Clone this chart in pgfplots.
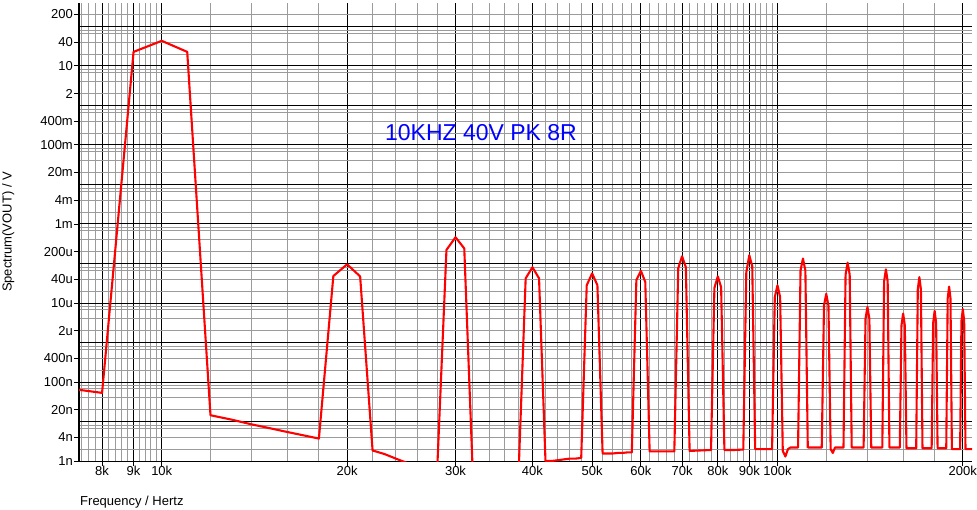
\documentclass[border=0pt]{standalone}
\usepackage{fontspec}
\setmainfont{Liberation Sans}
\usepackage{pgfplots}
\pgfplotsset{compat=1.18}
\definecolor{gridgray}{RGB}{155,155,155}
\definecolor{titleblue}{RGB}{0,0,255}

\pgfplotstableread{
f v
7000 7.0e-8
8000 5.3e-8
9000 22.6
10000 43
11000 22.6
12000 1.44e-8
13000 1.11e-8
14000 8.45e-9
15000 6.73e-9
16000 5.42e-9
17000 4.45e-9
18000 3.70e-9
19000 4.8e-5
20000 9.5e-5
21000 4.7e-5
22000 1.85e-9
23000 1.5e-9
24000 1.15e-9
25000 9.0e-10
26000 7.0e-10
27000 5.5e-10
28000 5.0e-10
29000 2.2e-4
30000 4.6e-4
31000 2.4e-4
32000 5.0e-10
33000 3.0e-10
34000 3.0e-10
35000 3.0e-10
36000 3.0e-10
37000 3.0e-10
38000 6.0e-10
39000 4.2e-5
40000 8.0e-5
41000 4.2e-5
42000 1.0e-9
43000 1.0e-9
44000 1.05e-9
45000 1.1e-9
46000 1.15e-9
47000 1.15e-9
48000 1.2e-9
49000 2.8e-5
50000 5.6e-5
51000 2.8e-5
52000 1.55e-9
53000 1.55e-9
54000 1.55e-9
55000 1.6e-9
56000 1.6e-9
57000 1.65e-9
58000 1.65e-9
59000 3.8e-5
60000 6.5e-5
61000 3.4e-5
62000 1.75e-9
65000 1.75e-9
68000 1.75e-9
69000 7.6e-5
70000 1.52e-4
71000 8.0e-5
72000 1.8e-9
75000 1.85e-9
78000 1.9e-9
79000 2.4e-5
80000 4.7e-5
81000 2.5e-5
82000 1.9e-9
85000 1.9e-9
88000 1.95e-9
89000 6.0e-5
90000 1.61e-4
91000 8.5e-5
92000 2.0e-9
95000 2.0e-9
98000 2.0e-9
99000 1.4e-5
100000 2.8e-5
101000 1.4e-5
102000 1.8e-9
103000 1.3e-9
104000 2.0e-9
105000 2.2e-9
108000 2.2e-9
109000 6.6e-5
110000 1.33e-4
111000 6.6e-5
112000 2.2e-9
118000 2.2e-9
119000 8.5e-6
120000 1.7e-5
121000 8.5e-6
122000 2.0e-9
123000 1.6e-9
124000 2.2e-9
128000 2.2e-9
129000 5.2e-5
130000 1.05e-4
131000 5.2e-5
132000 2.2e-9
138000 2.2e-9
139000 4.0e-6
140000 7.9e-6
141000 4.0e-6
142000 2.2e-9
148000 2.2e-9
149000 3.5e-5
150000 7.1e-5
151000 3.5e-5
152000 2.2e-9
158000 2.2e-9
159000 2.7e-6
160000 5.4e-6
161000 2.7e-6
162000 2.1e-9
168000 2.1e-9
169000 2.2e-5
170000 4.5e-5
171000 2.2e-5
172000 2.1e-9
178000 2.1e-9
179000 3.1e-6
180000 6.3e-6
181000 3.1e-6
182000 2.1e-9
188000 2.1e-9
189000 1.3e-5
190000 2.6e-5
191000 1.3e-5
192000 2.0e-9
198000 2.0e-9
199000 3.5e-6
200000 7.0e-6
201000 3.5e-6
202000 2.0e-9
210000 2.0e-9
}\spectrum

\begin{document}
\begin{tikzpicture}
\useasboundingbox (-79pt,-48pt) rectangle (898pt,461pt);
\begin{axis}[
  at={(0pt,0pt)}, anchor=south west,
  scale only axis, width=893pt, height=458pt,
  xmode=log, ymode=log,
  xmin=7340, xmax=207000, ymin=1e-9, ymax=390,
  axis x line=bottom, axis y line=left, axis line style={-},
  x axis line style={line width=1pt},
  y axis line style={line width=2.6pt},
  tick align=outside,
  major tick length=5pt, minor tick length=0pt,
  tick style={black, line width=0.8pt},
  tick label style={font=\fontsize{13}{15}\selectfont},
  xticklabel style={inner sep=0pt},
  yticklabel style={inner sep=1pt},
  xtick={8000,9000,10000,20000,30000,40000,50000,60000,70000,80000,90000,100000,200000},
  xticklabels={8k,9k,10k,20k,30k,40k,50k,60k,70k,80k,90k,100k,200k},
  minor xtick={7400,7600,7800,8200,8400,8600,8800,9200,9400,9600,9800,12000,14000,16000,18000,22000,24000,26000,28000,32000,34000,36000,38000,42000,44000,46000,48000,52000,54000,56000,58000,62000,64000,66000,68000,72000,74000,76000,78000,82000,84000,86000,88000,92000,94000,96000,98000,120000,140000,160000,180000},
  ytick={1e-9,4e-9,2e-8,1e-7,4e-7,2e-6,1e-5,4e-5,2e-4,1e-3,4e-3,2e-2,0.1,0.4,2,10,40,200},
  yticklabels={1n,4n,20n,100n,400n,2u,10u,40u,200u,1m,4m,20m,100m,400m,2,10,40,200},
  minor ytick={2e-9,4e-9,6.7e-9,8e-9,2e-8,4e-8,6.7e-8,8e-8,2e-7,4e-7,6.7e-7,8e-7,2e-6,4e-6,6.7e-6,8e-6,2e-5,4e-5,6.7e-5,8e-5,2e-4,4e-4,6.7e-4,8e-4,2e-3,4e-3,6.7e-3,8e-3,2e-2,4e-2,6.7e-2,8e-2,0.2,0.4,0.67,0.8,2,4,6.7,8,20,40,67,80,200},
  extra y ticks={1e-9,1e-8,1e-7,1e-6,1e-5,1e-4,1e-3,1e-2,0.1,1,10,100},
  extra y tick labels={},
  extra y tick style={grid=major, tick style={draw=none}},
  xmajorgrids=true, xminorgrids=true,
  ymajorgrids=false, yminorgrids=true,
  major grid style={black, line width=0.9pt},
  minor grid style={gridgray, line width=0.9pt},
  xlabel={Frequency / Hertz},
  xlabel style={at={(axis description cs:0,0)}, anchor=base west, yshift=-44pt, xshift=1pt, inner sep=0pt, font=\fontsize{13}{15}\selectfont},
  ylabel={Spectrum(VOUT) / V},
  ylabel style={at={(axis description cs:-0.0862,0.5)}, anchor=north, inner sep=0pt, font=\fontsize{13}{15}\selectfont},
]
\addplot[red, line width=2.1pt, line join=round] table[x=f, y=v] {\spectrum};
\node[font=\fontsize{23}{27}\selectfont, text=titleblue] at (axis cs:33000,0.2) {10KHZ 40V PK 8R};
\end{axis}
\end{tikzpicture}
\end{document}
